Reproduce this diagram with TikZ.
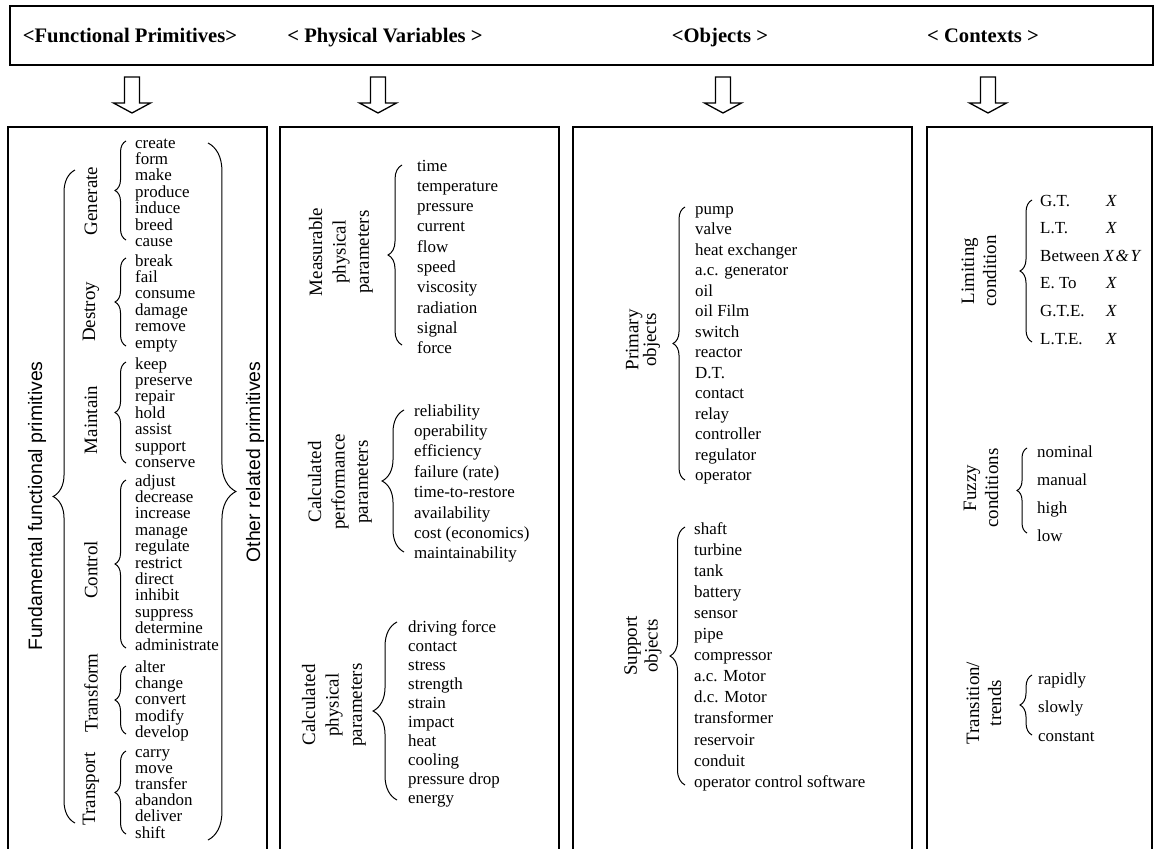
\documentclass[tikz,border=0pt]{standalone}
\usepackage{fontspec}
\setmainfont{Liberation Serif}
\setsansfont{Liberation Sans}
\usetikzlibrary{decorations.pathreplacing}

\tikzset{
  panel/.style={draw, line width=1.4bp},
  item/.style={anchor=base west, inner sep=0pt, font=\fontsize{17}{20}\selectfont},
  headtext/.style={anchor=base, inner sep=0pt, font=\fontsize{20.7}{24}\selectfont\bfseries},
  sidelabel/.style={rotate=90, align=center, inner sep=0pt, font=\fontsize{19}{#1}\selectfont},
  sidelabel/.default=22,
  sanslabel/.style={rotate=90, inner sep=0pt, font=\sffamily\fontsize{19.5}{23}\selectfont},
  curly/.style={draw, line width=1bp, decorate, decoration={brace, amplitude=#1}},
  hollow arrow/.pic={
    \draw[line width=1.3bp, line join=miter]
      (-7.5,0) -- (-7.5,26) -- (-18.5,26) -- (0,36) -- (18.5,26) -- (7.5,26) -- (7.5,0) -- cycle;
  }
}

% a column of entries: name, x, first line centre, line step, entries
\newcommand\entrylist[5]{%
  \foreach \t [count=\i] in {#5} {
    \node[item] (#1-\i) at (#2, {#3+(\i-1)*#4+4}) {\t};
  }%
}

\begin{document}
\begin{tikzpicture}[x=1bp, y=-1bp]
  \fill[white] (0,0) rectangle (1155,849);
  \useasboundingbox (0,0) rectangle (1155,849);
  \clip (0,0) rectangle (1155,849);

  % title strip
  \draw[panel] (10,6) rectangle (1153,65);
  \node[headtext] (hFP) at (130,42) {<Functional Primitives>};
  \node[headtext] (hPV) at (385,42) {< Physical Variables >};
  \node[headtext] (hOB) at (720,42) {<Objects >};
  \node[headtext] (hCT) at (983,42) {< Contexts >};

  % hollow arrows
  \pic at (132,77) {hollow arrow};
  \pic at (378,77) {hollow arrow};
  \pic at (723,77) {hollow arrow};
  \pic at (988,77) {hollow arrow};

  % panels (open at the bottom)
  \draw[panel] (8,870) -- (8,127) -- (267,127) -- (267,870);
  \draw[panel] (280,870) -- (280,127) -- (559,127) -- (559,870);
  \draw[panel] (573,870) -- (573,127) -- (912,127) -- (912,870);
  \draw[panel] (927,870) -- (927,127) -- (1152,127) -- (1152,870);

  % ---- functional primitives ----
  \node[sanslabel] (fund) at (37,506) {Fundamental functional primitives};
  \node[sanslabel] (other) at (255,462) {Other related primitives};
  \draw[curly=22] (75,823) -- (75,170);
  \draw[curly=28] (208,143) -- (208,840);

  \node[sidelabel] (gen) at (91,201) {Generate};
  \node[sidelabel] (des) at (91,312) {Destroy};
  \node[sidelabel] (mai) at (91,420) {Maintain};
  \node[sidelabel] (con) at (91,570) {Control};
  \node[sidelabel] (tfm) at (91,693) {Transform};
  \node[sidelabel] (tpt) at (91,789) {Transport};

  \entrylist{g}{135}{144}{16.4}{create,form,make,produce,induce,breed,cause}
  \entrylist{d}{135}{262}{16.4}{break,fail,consume,damage,remove,empty}
  \entrylist{m}{135}{365}{16.4}{keep,preserve,repair,hold,assist,support,conserve}
  \entrylist{c}{135}{482}{16.4}{adjust,decrease,increase,manage,regulate,restrict,direct,inhibit,suppress,determine,administrate}
  \entrylist{t}{135}{668}{16.4}{alter,change,convert,modify,develop}
  \entrylist{p}{135}{753}{16.2}{carry,move,transfer,abandon,deliver,shift}

  \draw[curly=11] (126,240) -- (126,141);
  \draw[curly=11] (126,346) -- (126,258);
  \draw[curly=11] (126,463) -- (126,362);
  \draw[curly=11] (126,648) -- (126,480);
  \draw[curly=11] (126,734) -- (126,666);
  \draw[curly=11] (126,834) -- (126,751);

  % ---- physical variables ----
  \node[sidelabel=23.5] (meas) at (341,252) {Measurable\\physical\\parameters};
  \node[sidelabel=23.5] (perf) at (340,482) {Calculated\\performance\\parameters};
  \node[sidelabel=23.5] (calc) at (334,705) {Calculated\\physical\\parameters};

  \entrylist{mp}{417}{167}{20.3}{time,temperature,pressure,current,flow,speed,viscosity,radiation,signal,force}
  \entrylist{pp}{414}{412}{20.4}{reliability,operability,efficiency,failure (rate),time-to-restore,availability,cost (economics),maintainability}
  \entrylist{cp}{408}{628}{19.1}{driving force,contact,stress,strength,strain,impact,heat,cooling,pressure drop,energy}

  \draw[curly=14] (402,345) -- (402,165);
  \draw[curly=22] (404,552) -- (404,410);
  \draw[curly=24] (397,800) -- (397,622);

  % ---- objects ----
  \node[sidelabel=18] (prim) at (643,340) {Primary\\objects};
  \node[sidelabel=21] (supp) at (643,646) {Support\\objects};

  \entrylist{po}{695}{210}{20.5}{pump,valve,heat exchanger,a.c. generator,oil,oil Film,switch,reactor,D.T.,contact,relay,controller,regulator,operator}
  \entrylist{so}{694}{530}{21.1}{shaft,turbine,tank,battery,sensor,pipe,compressor,a.c. Motor,d.c. Motor,transformer,reservoir,conduit,operator control software}

  \draw[curly=12] (685,480) -- (685,207);
  \draw[curly=15] (685,785) -- (685,527);

  % ---- contexts ----
  \node[sidelabel] (lim) at (979,271) {Limiting\\condition};
  \node[sidelabel] (fuz) at (981,488) {Fuzzy\\conditions};
  \node[sidelabel] (trn) at (984,703) {Transition/\\trends};

  \entrylist{lc}{1040}{202}{27.6}{{\makebox[66bp][l]{G.T.}\textit{X}},{\makebox[66bp][l]{L.T.}\textit{X}},{Between \textit{X\kern1.5bp\&\kern2bp Y}},{\makebox[66bp][l]{E. To}\textit{X}},{\makebox[66bp][l]{G.T.E.}\textit{X}},{\makebox[66bp][l]{L.T.E.}\textit{X}}}
  \entrylist{fc}{1037}{453}{28}{nominal,manual,high,low}
  \entrylist{tr}{1038}{680}{28.5}{rapidly,slowly,constant}

  \draw[curly=12] (1032,342) -- (1032,200);
  \draw[curly=10] (1027,533) -- (1027,448);
  \draw[curly=12] (1032,735) -- (1032,675);
\end{tikzpicture}
\end{document}
